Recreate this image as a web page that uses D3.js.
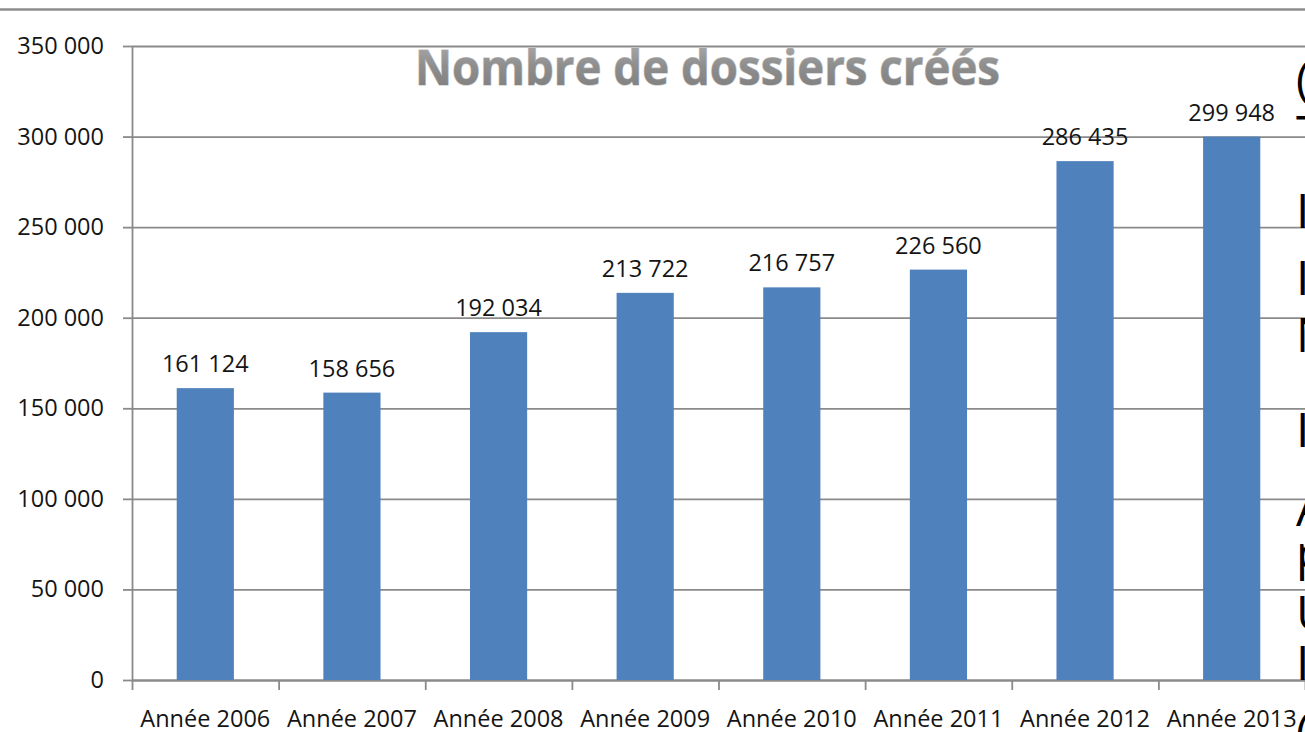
<!DOCTYPE html>
<html lang="fr">
<head>
<meta charset="utf-8">
<title>Nombre de dossiers créés</title>
<script src="https://cdn.jsdelivr.net/npm/d3@7"></script>
<style>
	html, body { margin: 0; padding: 0; background: #fff; overflow: hidden; }
	#graphic { width: 1305px; height: 732px; }
	.axis text { font-family: "Open Sans", "Noto Sans", sans-serif; font-size: 23.5px; fill: #141414; }
	.axis .domain, .axis line { stroke: #8a8a8a; stroke-width: 1.8px; }
	.grid line { stroke: #8a8a8a; stroke-width: 1.8px; }
	.grid .domain { display: none; }
	.value-label { font-family: "Open Sans", "Noto Sans", sans-serif; font-size: 23.5px; fill: #141414; }
	.side-text { font-family: "Open Sans", "Noto Sans", sans-serif; font-size: 48px; fill: #000; }
</style>
</head>
<body>
<div id="graphic"></div>
<script>
const graphic = d3.select('#graphic');

// data
const categories = ['Année 2006', 'Année 2007', 'Année 2008', 'Année 2009', 'Année 2010', 'Année 2011', 'Année 2012', 'Année 2013'];
const dossiers = [161124, 158656, 192034, 213722, 216757, 226560, 286435, 299948];
const yTicks = [0, 50000, 100000, 150000, 200000, 250000, 300000, 350000];
const yMax = 350000;
const titleText = 'Nombre de dossiers créés';

// clipped text of the slide next to the chart (only first letters visible)
const sideGlyphs = ['(', 'T', 'I', 'I', 'N', 'I', 'A', 'p', 'U', 'I', '('];
const sideBaselines = [96, 150, 228, 295, 352, 447, 526, 570, 630, 680, 748];

const width = 1305;
const height = 732;
const margin = { top: 46, right: 0, bottom: 52, left: 132 };
const chart_width = width - margin.left - margin.right;
const chart_height = height - margin.top - margin.bottom;

// french number format, space as thousands separator
const fr = d3.formatLocale({ decimal: ',', thousands: ' ', grouping: [3], currency: ['', ' €'] });
const fmt = fr.format(',d');

function drawGraphic() {
	graphic.selectAll('*').remove();

	const svg = graphic
		.append('svg')
		.attr('width', width)
		.attr('height', height);

	// top rule of the slide
	svg.append('line')
		.attr('x1', 0)
		.attr('x2', width)
		.attr('y1', 9.5)
		.attr('y2', 9.5)
		.attr('stroke', '#8c8c8c')
		.attr('stroke-width', 2.5);

	const g = svg.append('g')
		.attr('transform', 'translate(' + margin.left + ',' + margin.top + ')');

	// scales
	const x = d3.scaleBand()
		.domain(categories)
		.range([0, chart_width])
		.paddingInner(0.61)
		.paddingOuter(0.305);

	const xEdge = d3.scaleLinear()
		.domain([0, categories.length])
		.range([0, chart_width]);

	const y = d3.scaleLinear()
		.domain([0, yMax])
		.range([chart_height, 0]);

	//gridlines
	g.append('g')
		.attr('class', 'grid')
		.call(d3.axisLeft(y).tickValues(yTicks).tickSize(-chart_width).tickFormat(''));

	//add y-axis
	g.append('g')
		.attr('class', 'y axis')
		.call(
			d3.axisLeft(y)
				.tickValues(yTicks)
				.tickSize(9)
				.tickSizeOuter(0)
				.tickPadding(19)
				.tickFormat(fmt)
		);

	//add x-axis ticks between categories
	g.append('g')
		.attr('class', 'x axis')
		.attr('transform', 'translate(0,' + chart_height + ')')
		.call(
			d3.axisBottom(xEdge)
				.tickValues(d3.range(categories.length + 1))
				.tickSize(10)
				.tickSizeOuter(0)
				.tickFormat('')
		);

	//category labels
	g.append('g')
		.attr('class', 'x axis labels')
		.attr('transform', 'translate(0,' + chart_height + ')')
		.call(d3.axisBottom(x).tickSize(0).tickPadding(30))
		.call((a) => a.select('.domain').remove());

	// bars
	const bars = categories.map((c, i) => ({ cat: c, value: dossiers[i] }));

	g.append('g')
		.selectAll('rect')
		.data(bars)
		.join('rect')
		.attr('x', (d) => x(d.cat))
		.attr('y', (d) => y(d.value))
		.attr('width', x.bandwidth())
		.attr('height', (d) => chart_height - y(d.value))
		.attr('fill', '#4f81bd');

	// value labels
	g.append('g')
		.selectAll('text')
		.data(bars)
		.join('text')
		.attr('class', 'value-label')
		.attr('text-anchor', 'middle')
		.attr('x', (d) => x(d.cat) + x.bandwidth() / 2)
		.attr('y', (d) => y(d.value) - 16)
		.text((d) => fmt(d.value));

	// title, grey embossed look
	const defs = svg.append('defs');
	const grad = defs.append('linearGradient')
		.attr('id', 'titleGrad')
		.attr('x1', 0).attr('y1', 0).attr('x2', 0).attr('y2', 1);
	grad.append('stop').attr('offset', '0%').attr('stop-color', '#b4b4b4');
	grad.append('stop').attr('offset', '50%').attr('stop-color', '#8e8e8e');
	grad.append('stop').attr('offset', '100%').attr('stop-color', '#7a7a7a');

	svg.append('text')
		.attr('x', 415)
		.attr('y', 85)
		.attr('textLength', 585)
		.attr('lengthAdjust', 'spacingAndGlyphs')
		.style('font-family', '"Open Sans", "Noto Sans", sans-serif')
		.style('font-weight', 700)
		.style('font-size', '49px')
		.attr('fill', 'url(#titleGrad)')
		.attr('stroke', '#c4c4c4')
		.attr('stroke-width', 1.2)
		.style('paint-order', 'stroke')
		.text(titleText);

	// text box of the slide, cut by the right edge
	svg.append('g')
		.selectAll('text')
		.data(sideGlyphs)
		.join('text')
		.attr('class', 'side-text')
		.attr('x', 1296)
		.attr('y', (d, i) => sideBaselines[i])
		.style('font-size', (d) => (d === '(' ? '46px' : null))
		.text((d) => d);
}

drawGraphic();
</script>
</body>
</html>
